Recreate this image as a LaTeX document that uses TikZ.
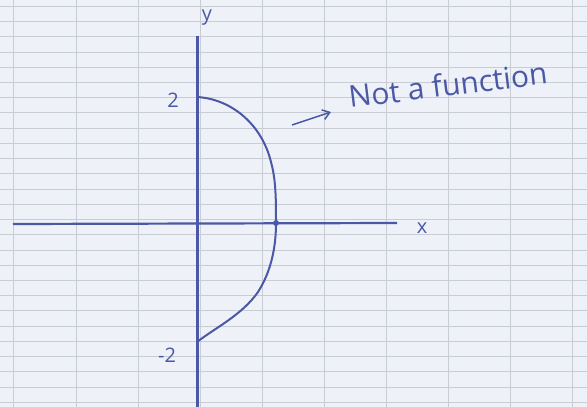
\documentclass[tikz,border=0pt]{standalone}
\usepackage{fontspec}
\setmainfont{Open Sans}
\usetikzlibrary{arrows.meta}
\definecolor{paper}{HTML}{EEF2F8}
\definecolor{gridc}{HTML}{C8CCD3}
\definecolor{pen}{HTML}{4B58A6}
\tikzset{
  gridline/.style={draw=gridc, line width=0.7pt},
  axisline/.style={draw=pen, line width=3pt},
  curveline/.style={draw=pen, line width=2pt, line cap=round, line join=round},
  handtext/.style={text=pen, inner sep=0pt, font=\fontsize{20}{20}\selectfont},
}
\begin{document}
\begin{tikzpicture}[x=1pt,y=-1pt]
\fill[paper] (0,0) rectangle (587,407);
\useasboundingbox (0,0) rectangle (587,407);
% graph paper
\foreach \gx in {13,76,138,200,262,324,386,448,510,572}
  \draw[gridline] (\gx,0) -- (\gx,407);
\foreach \gy in {6,21,36,52,67,82,97,112,128,143,158,173,189,204,219,234,250,265,280,295,310,326,341,356,371,387,402}
  \draw[gridline] (0,\gy) -- (587,\gy);
% axes
\coordinate (ytop) at (197,36);
\coordinate (ybot) at (197,407);
\coordinate (xleft) at (13,224);
\coordinate (xright) at (397,223);
\draw[axisline] (ytop) -- (ybot);
\draw[pen, line width=2.2pt] (xleft) -- (xright);
\node[handtext] (ylab) at (207,18) {y};
\node[handtext] (xlab) at (422,228) {x};
\node[handtext] (ptwo) at (173,100) {2};
\node[handtext] (mtwo) at (167,355) {-2};
% curve
\coordinate (top) at (197,97);
\coordinate (mid) at (276,223);
\coordinate (bot) at (197,342);
\draw[curveline] (top) .. controls (232,99) and (262,125) .. (271,162)
  .. controls (276,180) and (276,200) .. (mid)
  .. controls (276,245) and (272,270) .. (258,292)
  .. controls (242,315) and (215,328) .. (bot);
\fill[pen] (mid) circle (3);
% annotation
\coordinate (arrs) at (292,125);
\coordinate (arre) at (331,112);
\draw[pen, line width=1.5pt, -{Straight Barb[length=7pt,width=10pt]}] (arrs) -- (arre);
\node[handtext, anchor=base west, rotate=7, font=\fontsize{30}{30}\selectfont] (note) at (350,108) {Not a function};
\end{tikzpicture}
\end{document}
